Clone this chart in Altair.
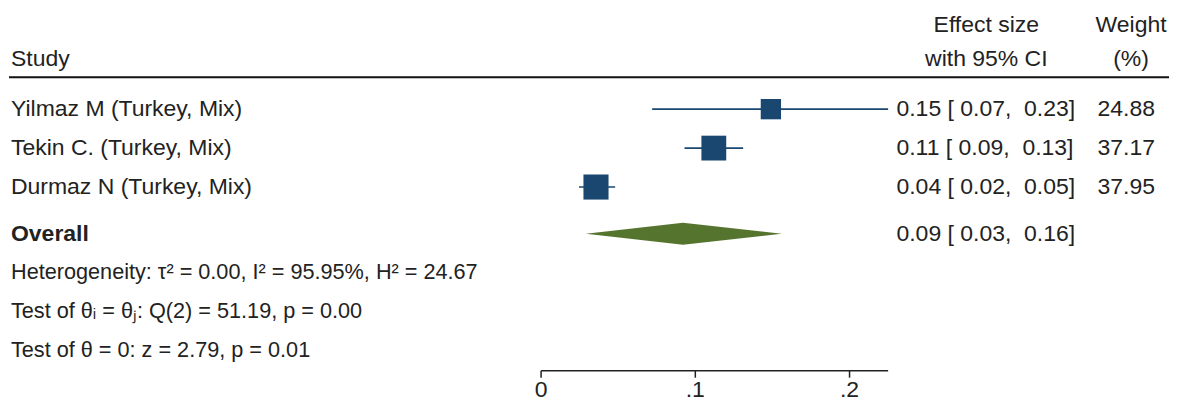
import altair as alt
import pandas as pd

# ---------------- data ----------------
studies = ["Yilmaz M (Turkey, Mix)", "Tekin C. (Turkey, Mix)", "Durmaz N (Turkey, Mix)"]
effect = [0.149, 0.112, 0.0356]
ci_low = [0.072, 0.093, 0.0246]
ci_high = [0.23, 0.131, 0.048]
weight = [24.88, 37.17, 37.95]

overall_label = "Overall"
overall_effect = 0.092
overall_low = 0.029
overall_high = 0.156

stats_lines = [
    "Heterogeneity: \u03c4\u00b2 = 0.00, I\u00b2 = 95.95%, H\u00b2 = 24.67",
    "Test of \u03b8\u1d62 = \u03b8\u2c7c: Q(2) = 51.19, p = 0.00",
    "Test of \u03b8 = 0: z = 2.79, p = 0.01",
]
tick_values = [0, 0.1, 0.2]
tick_labels = ["0", ".1", ".2"]

# ---------------- layout ----------------
W, H = 1162, 385
FONT = "Liberation Sans"
FS = 23
FS_STATS = 21.7
TXT = "#222222"
NAVY = "#1a476f"
GREEN = "#55752f"
X0, PPU = 533.0, 1545.0           # pixel of x=0 and pixels per unit
Y0, ROWH = 62.0, 39.0              # row r sits at Y0 + ROWH*r
AXIS_MAX = 0.225
OVERALL_ROW = 4.2
STATS_ROWS = [5.18, 6.18, 7.18]
DIAMOND_HALF = 0.28
NB = "\u00a0"

xscale = alt.Scale(domain=[-X0 / PPU, (W - X0) / PPU], nice=False, zero=False)
yscale = alt.Scale(domain=[-Y0 / ROWH, (H - Y0) / ROWH], nice=False, zero=False, reverse=True)


def fmt(e, lo, hi):
    return (f"{e:.2f} [{lo:5.2f}, {hi:5.2f}]").replace(" ", NB)


df = pd.DataFrame({
    "study": studies,
    "effect": effect,
    "lo": ci_low,
    "hi": ci_high,
    "weight": weight,
    "row": list(range(1, len(studies) + 1)),
})
df["hi_clip"] = [min(h, AXIS_MAX) for h in ci_high]
df["es_text"] = [fmt(e, l, h) for e, l, h in zip(effect, ci_low, ci_high)]
df["w_text"] = [f"{w:.2f}" for w in weight]

X = lambda f: alt.X(f, type="quantitative", scale=xscale, axis=None)
Y = lambda f: alt.Y(f, type="quantitative", scale=yscale, axis=None)

base = alt.Chart(df)

ci = base.mark_rule(color=NAVY, strokeWidth=1.6).encode(
    x=X("lo"), x2="hi_clip", y=Y("row")
)
squares = base.mark_square(color=NAVY, opacity=1).encode(
    x=X("effect"), y=Y("row"),
    size=alt.Size("weight:Q", scale=alt.Scale(domain=[0, 40], range=[0, 666], zero=True), legend=None),
)
study_txt = base.mark_text(align="left", baseline="middle", font=FONT, fontSize=FS, color=TXT).encode(
    x=alt.value(2), y=Y("row"), text="study:N"
)
es_txt = base.mark_text(align="left", baseline="middle", font=FONT, fontSize=FS, color=TXT).encode(
    x=alt.value(889), y=Y("row"), text="es_text:N"
)
w_txt = base.mark_text(align="right", baseline="middle", font=FONT, fontSize=FS, color=TXT).encode(
    x=alt.value(1148), y=Y("row"), text="w_text:N"
)

# overall diamond
dia = pd.DataFrame({
    "x": [overall_low, overall_effect, overall_high],
    "y": [OVERALL_ROW, OVERALL_ROW - DIAMOND_HALF, OVERALL_ROW],
    "y2": [OVERALL_ROW, OVERALL_ROW + DIAMOND_HALF, OVERALL_ROW],
})
diamond = alt.Chart(dia).mark_area(color=GREEN, opacity=1, orient="vertical").encode(
    x=X("x"), y=Y("y"), y2="y2"
)
ov = pd.DataFrame({
    "label": [overall_label],
    "row": [OVERALL_ROW],
    "es_text": [fmt(overall_effect, overall_low, overall_high)],
})
ov_lbl = alt.Chart(ov).mark_text(align="left", baseline="middle", font=FONT, fontSize=FS,
                                 fontWeight="bold", color=TXT).encode(
    x=alt.value(2), y=Y("row"), text="label:N")
ov_es = alt.Chart(ov).mark_text(align="left", baseline="middle", font=FONT, fontSize=FS, color=TXT).encode(
    x=alt.value(889), y=Y("row"), text="es_text:N")

# stats lines
st = pd.DataFrame({"t": stats_lines, "row": STATS_ROWS})
stats = alt.Chart(st).mark_text(align="left", baseline="middle", font=FONT, fontSize=FS_STATS, color=TXT).encode(
    x=alt.value(2), y=Y("row"), text="t:N")


def label(txt, x, y, align="center"):
    return alt.Chart(pd.DataFrame({"t": [txt]})).mark_text(
        align=align, baseline="middle", font=FONT, fontSize=FS, color=TXT
    ).encode(x=alt.value(x), y=alt.value(y), text="t:N")


headers = [
    label("Study", 2, 51, "left"),
    label("Effect size", 979, 17),
    label("with 95% CI", 979, 51),
    label("Weight", 1124, 17),
    label("(%)", 1124, 51),
]
head_line = alt.Chart(pd.DataFrame({"a": [0]})).mark_rule(color="#111111", strokeWidth=2).encode(
    x=alt.value(0), x2=alt.value(W), y=alt.value(69)
)

# x axis drawn by hand
AXIS_Y = 363
ax = pd.DataFrame({"v": tick_values, "lab": tick_labels})
axis_line = alt.Chart(pd.DataFrame({"a": [0], "b": [AXIS_MAX]})).mark_rule(color="#222222", strokeWidth=1.5).encode(
    x=X("a"), x2="b", y=alt.value(AXIS_Y)
)
axis_ticks = alt.Chart(ax).mark_rule(color="#222222", strokeWidth=1.5).encode(
    x=X("v"), y=alt.value(AXIS_Y), y2=alt.value(AXIS_Y + 7)
)
axis_labels = alt.Chart(ax).mark_text(baseline="middle", font=FONT, fontSize=FS, color=TXT).encode(
    x=X("v"), y=alt.value(382), text="lab:N"
)

chart = alt.layer(
    head_line, *headers, ci, squares, study_txt, es_txt, w_txt,
    diamond, ov_lbl, ov_es, stats, axis_line, axis_ticks, axis_labels
).properties(
    width=W, height=H, padding=0, background="white"
).configure_view(stroke=None)

chart.save("out.html", embed_options={"renderer": "svg", "actions": False})
